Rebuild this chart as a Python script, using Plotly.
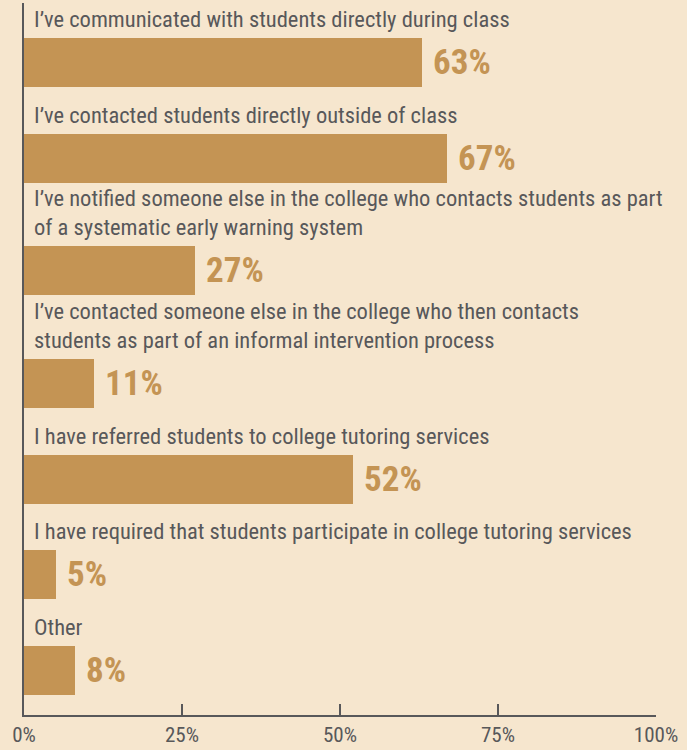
import plotly.graph_objects as go

# data
labels = [
    "I\u2019ve communicated with students directly during class",
    "I\u2019ve contacted students directly outside of class",
    "I\u2019ve notified someone else in the college who contacts students as part<br>of a systematic early warning system",
    "I\u2019ve contacted someone else in the college who then contacts<br>students as part of an informal intervention process",
    "I have referred students to college tutoring services",
    "I have required that students participate in college tutoring services",
    "Other",
]
values = [63, 67, 27, 11, 52, 5, 8]
tick_vals = [0, 25, 50, 75, 100]
tick_text = ["0%", "25%", "50%", "75%", "100%"]

bar_color = "#C49454"
bg_color = "#F6E6CE"
text_color = "#58585A"
font_family = "Liberation Sans Narrow, Roboto Condensed, Arial Narrow, Liberation Sans, sans-serif"

# y positions in pixel-like units (axis is 714 px tall), one slot per item,
# slots with two-line labels get a bit more room
bar_h = 49
base_step = 96
extra_line = 17
centers = []
c = 59.5
for i, lab in enumerate(labels):
    if i > 0:
        c += base_step + extra_line * lab.count("<br>")
    centers.append(c)

fig = go.Figure(go.Bar(
    x=values, y=centers, orientation="h", width=bar_h,
    marker=dict(color=bar_color, line=dict(width=0)),
    hoverinfo="skip",
))

# category labels above bars
for lab, cy in zip(labels, centers):
    fig.add_annotation(
        x=0, y=cy - bar_h / 2 - 4, xref="x", yref="y",
        text=lab, showarrow=False, xanchor="left", yanchor="bottom",
        align="left", xshift=8,
        font=dict(family=font_family, size=22.5, color=text_color),
    )

# value labels
for v, cy in zip(values, centers):
    fig.add_annotation(
        x=v, y=cy, xref="x", yref="y",
        text=f"<b>{v}%</b>", showarrow=False, xanchor="left", yanchor="middle",
        xshift=9,
        font=dict(family=font_family, size=35, color=bar_color),
    )

fig.update_xaxes(
    range=[0, 100], tickvals=tick_vals, ticktext=tick_text,
    showgrid=False, zeroline=False,
    showline=True, linecolor=text_color, linewidth=2,
    ticks="inside", ticklen=11, tickwidth=2, tickcolor=text_color,
    tickfont=dict(family=font_family, size=21, color=text_color),
)
fig.update_yaxes(
    range=[714, 0], showticklabels=False, showgrid=False, zeroline=False,
    showline=True, linecolor=text_color, linewidth=2, ticks="",
)

fig.update_layout(
    width=687, height=750,
    margin=dict(l=24, r=31, t=3, b=33),
    paper_bgcolor=bg_color, plot_bgcolor=bg_color,
    showlegend=False, bargap=0,
)

# drop the default page margin so the figure sits at the window corner
fig.write_html("out.html", config={"displayModeBar": False},
               post_script="document.body.style.margin='0px';")
